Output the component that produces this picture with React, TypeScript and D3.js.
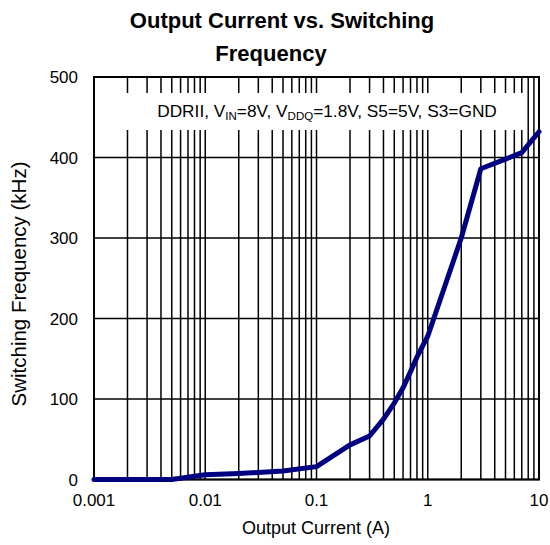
import React from "react";
import * as d3 from "d3";

const currents = [0.001, 0.002, 0.005, 0.01, 0.02, 0.05, 0.1, 0.2, 0.3, 0.4, 0.5, 0.6, 0.7, 0.8, 0.9, 1, 2, 3, 5, 7, 10];
const frequencies = [0, 0, 0, 6, 7.5, 10.5, 16, 43, 54, 75, 95, 114, 134, 152, 166, 178, 300, 386, 398, 406, 432];
const yTicks = [0, 100, 200, 300, 400, 500];
const xTickValues = [0.001, 0.01, 0.1, 1, 10];
const xTickLabels = ["0.001", "0.01", "0.1", "1", "10"];

const W = 550, H = 545;
const L = 94, R = 539, T = 77, B = 479.5;

export default function App() {
  const x = d3.scaleLog().domain([0.001, 10]).range([L, R]);
  const y = d3.scaleLinear().domain([0, 500]).range([B, T]);
  const minor: number[] = [];
  for (let e = -3; e < 1; e++) {
    for (let m = 2; m <= 9; m++) minor.push(m * Math.pow(10, e));
  }
  const vlines = [...minor, 0.01, 0.1, 1];
  const line = d3.line<number>().x((_, i) => x(currents[i])).y((d) => y(d));
  const font = "Arial, 'Liberation Sans', sans-serif";
  const boxL = 100, boxR = 526, boxT = 93, boxB = 130;
  return (
    <svg width={W} height={H} style={{ position: "absolute", left: 0, top: 0 }} fontFamily={font}>
      <rect width={W} height={H} fill="#fff" />
      <text x={282} y={28} textAnchor="middle" fontSize={22} fontWeight="bold">Output Current vs. Switching</text>
      <text x={271} y={61} textAnchor="middle" fontSize={22} fontWeight="bold">Frequency</text>
      {yTicks.map((t) => (
        <line key={"h" + t} x1={L} x2={R} y1={y(t)} y2={y(t)} stroke="#000" strokeWidth={1.5} />
      ))}
      {vlines.map((v, i) => (
        <line key={"v" + i} x1={x(v)} x2={x(v)} y1={T} y2={B} stroke="#000" strokeWidth={1.5} />
      ))}
      <rect x={boxL} y={boxT} width={boxR - boxL} height={boxB - boxT} fill="#fff" />
      <text x={327} y={117} textAnchor="middle" fontSize={17.3}>
        DDRII, V<tspan fontSize={11.5} dy={3}>IN</tspan><tspan dy={-3}>=8V, V</tspan><tspan fontSize={11.5} dy={3}>DDQ</tspan><tspan dy={-3}>=1.8V, S5=5V, S3=GND</tspan>
      </text>
      <rect x={L} y={T} width={R - L} height={B - T} fill="none" stroke="#000" strokeWidth={2} />
      <path d={line(frequencies) || ""} fill="none" stroke="#000080" strokeWidth={5} strokeLinejoin="round" strokeLinecap="round" />
      {yTicks.map((t) => (
        <text key={"yl" + t} x={78} y={y(t) + 6} textAnchor="end" fontSize={17}>{t}</text>
      ))}
      {xTickValues.map((v, i) => (
        <text key={"xl" + i} x={x(v)} y={506} textAnchor="middle" fontSize={17}>{xTickLabels[i]}</text>
      ))}
      <text x={316} y={534} textAnchor="middle" fontSize={18}>Output Current (A)</text>
      <text transform={`translate(26,284) rotate(-90)`} textAnchor="middle" fontSize={20.5}>Switching Frequency (kHz)</text>
    </svg>
  );
}
